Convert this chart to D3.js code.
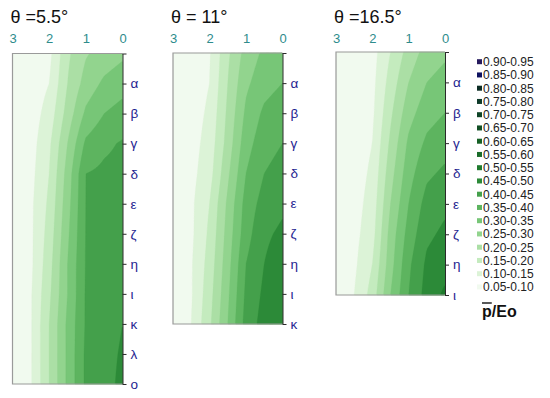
<!DOCTYPE html>
<html>
<head>
<meta charset="utf-8">
<script src="https://cdn.jsdelivr.net/npm/d3@7"></script>
<style>
  body { margin: 0; background: #fff; }
  text { font-family: "Liberation Sans", Arial, sans-serif; }
</style>
</head>
<body>
<svg id="chart" width="550" height="398"></svg>
<script>
// grid columns (top axis, runs 3 -> 0)
var xVals = [3, 2.5, 2, 1.5, 1, 0.5, 0];
var xTicks = [3, 2, 1, 0];

var rows1 = ["", "α", "β", "γ", "δ", "ε", "ζ", "η", "ι", "κ", "λ", "ο"];
var rows2 = ["", "α", "β", "γ", "δ", "ε", "ζ", "η", "ι", "κ"];
var rows3 = ["", "α", "β", "γ", "δ", "ε", "ζ", "η", "ι"];

var titles = ["θ =5.5°", "θ = 11°", "θ =16.5°"];

// p/Eo, one row per tick, columns follow xVals
var theta55 = [
  [0.055, 0.065, 0.085, 0.19, 0.245, 0.27, 0.29],
  [0.06, 0.07, 0.10, 0.20, 0.27, 0.31, 0.33],
  [0.06, 0.075, 0.12, 0.22, 0.31, 0.35, 0.37],
  [0.06, 0.08, 0.14, 0.25, 0.36, 0.39, 0.405],
  [0.06, 0.085, 0.15, 0.27, 0.40, 0.41, 0.415],
  [0.06, 0.09, 0.16, 0.28, 0.401, 0.41, 0.42],
  [0.065, 0.09, 0.17, 0.29, 0.402, 0.415, 0.425],
  [0.065, 0.09, 0.18, 0.30, 0.403, 0.42, 0.43],
  [0.065, 0.095, 0.19, 0.30, 0.405, 0.425, 0.44],
  [0.065, 0.095, 0.20, 0.31, 0.405, 0.43, 0.45],
  [0.065, 0.095, 0.20, 0.31, 0.41, 0.435, 0.455],
  [0.065, 0.095, 0.20, 0.31, 0.41, 0.435, 0.46]
];
var theta11 = [
  [0.055, 0.065, 0.095, 0.19, 0.27, 0.31, 0.33],
  [0.055, 0.07, 0.10, 0.20, 0.29, 0.33, 0.35],
  [0.06, 0.075, 0.11, 0.21, 0.31, 0.36, 0.38],
  [0.06, 0.08, 0.12, 0.22, 0.33, 0.38, 0.40],
  [0.06, 0.085, 0.13, 0.24, 0.35, 0.40, 0.42],
  [0.06, 0.09, 0.15, 0.26, 0.37, 0.42, 0.44],
  [0.065, 0.09, 0.16, 0.27, 0.38, 0.44, 0.46],
  [0.065, 0.095, 0.17, 0.28, 0.40, 0.45, 0.48],
  [0.065, 0.095, 0.18, 0.29, 0.41, 0.46, 0.49],
  [0.065, 0.10, 0.19, 0.30, 0.42, 0.47, 0.50]
];
var theta165 = [
  [0.05, 0.06, 0.08, 0.15, 0.22, 0.27, 0.29],
  [0.05, 0.06, 0.085, 0.17, 0.25, 0.30, 0.32],
  [0.055, 0.065, 0.09, 0.19, 0.28, 0.33, 0.35],
  [0.055, 0.07, 0.10, 0.21, 0.31, 0.36, 0.38],
  [0.055, 0.075, 0.11, 0.23, 0.33, 0.39, 0.41],
  [0.06, 0.08, 0.12, 0.25, 0.35, 0.42, 0.44],
  [0.06, 0.085, 0.13, 0.27, 0.37, 0.44, 0.46],
  [0.06, 0.09, 0.15, 0.28, 0.39, 0.46, 0.48],
  [0.06, 0.10, 0.17, 0.30, 0.40, 0.47, 0.51]
];

var levels = [0.05, 0.10, 0.15, 0.20, 0.25, 0.30, 0.35, 0.40, 0.45,
              0.50, 0.55, 0.60, 0.65, 0.70, 0.75, 0.80, 0.85, 0.90];
var legendLabels = ["0.05-0.10", "0.10-0.15", "0.15-0.20", "0.20-0.25", "0.25-0.30",
  "0.30-0.35", "0.35-0.40", "0.40-0.45", "0.45-0.50", "0.50-0.55", "0.55-0.60",
  "0.60-0.65", "0.65-0.70", "0.70-0.75", "0.75-0.80", "0.80-0.85", "0.85-0.90", "0.90-0.95"];
var colors = ["#f1faef", "#dcf3d7", "#c4ebbe", "#abdfa5", "#92d48e", "#77c677",
  "#5db45f", "#44a04b", "#2c8a38", "#1f7a2d", "#1a6c29", "#166025", "#114e24",
  "#0f4427", "#0e3a29", "#0c2c24", "#0e1260", "#261a5e"];

var svg = d3.select("#chart");

var panels = [
  {data: theta55, rows: rows1, title: titles[0], x0: 12.5, x1: 122.5, y0: 53.5, y1: 384},
  {data: theta11, rows: rows2, title: titles[1], x0: 173, x1: 282.5, y0: 53, y1: 324},
  {data: theta165, rows: rows3, title: titles[2], x0: 336, x1: 445, y0: 52, y1: 295}
];

panels.forEach(function(p) {
  var x = d3.scaleLinear().domain([3, 0]).range([p.x0, p.x1]);
  var y = d3.scaleLinear().domain([0, p.rows.length - 1]).range([p.y0, p.y1]);
  var col = d3.scaleLinear().domain(xVals).range(d3.range(xVals.length));

  // resample grid to pixels (bilinear) so bands come out piecewise linear
  var W = Math.round(p.x1 - p.x0), H = Math.round(p.y1 - p.y0);
  var vals = new Array(W * H);
  for (var j = 0; j < H; j++) {
    var r = y.invert(p.y0 + (j + 0.5) * (p.y1 - p.y0) / H);
    r = Math.max(0, Math.min(p.rows.length - 1, r));
    var r0 = Math.min(Math.floor(r), p.rows.length - 2), fr = r - r0;
    for (var i = 0; i < W; i++) {
      var c = col(x.invert(p.x0 + (i + 0.5) * (p.x1 - p.x0) / W));
      c = Math.max(0, Math.min(xVals.length - 1, c));
      var c0 = Math.min(Math.floor(c), xVals.length - 2), fc = c - c0;
      var a = p.data[r0][c0] * (1 - fc) + p.data[r0][c0 + 1] * fc;
      var b = p.data[r0 + 1][c0] * (1 - fc) + p.data[r0 + 1][c0 + 1] * fc;
      vals[j * W + i] = a * (1 - fr) + b * fr;
    }
  }
  var bands = d3.contours().size([W, H]).thresholds(levels)(vals);
  var sx = (p.x1 - p.x0) / W, sy = (p.y1 - p.y0) / H;
  var path = d3.geoPath(d3.geoTransform({
    point: function(px, py) { this.stream.point(p.x0 + px * sx, p.y0 + py * sy); }
  }));

  var g = svg.append("g");
  g.append("rect")
    .attr("x", p.x0).attr("y", p.y0)
    .attr("width", p.x1 - p.x0).attr("height", p.y1 - p.y0)
    .attr("fill", "#fff");
  g.selectAll("path.band")
    .data(bands)
    .enter().append("path")
    .attr("class", "band")
    .attr("d", path)
    .attr("fill", function(d) { return colors[levels.indexOf(d.value)]; })
    .attr("stroke", function(d) { return colors[levels.indexOf(d.value)]; })
    .attr("stroke-width", 0.3);

  // frame
  g.append("path")
    .attr("d", "M" + p.x1 + "," + p.y0 + "H" + p.x0 + "V" + p.y1 + "H" + p.x1)
    .attr("fill", "none")
    .attr("stroke", "#9a9a9a")
    .attr("stroke-width", 1.2);

  // top axis
  var top = g.append("g")
    .attr("transform", "translate(0,43)")
    .call(d3.axisTop(x).tickValues(xTicks).tickFormat(d3.format("d")).tickSize(0).tickPadding(0));
  top.select(".domain").remove();
  top.selectAll("text")
    .style("font-size", "13px")
    .style("font-family", "'Liberation Sans', Arial, sans-serif")
    .attr("fill", "#2e8c8c");

  // right axis with the row names
  var right = g.append("g")
    .attr("transform", "translate(" + p.x1 + ",0)")
    .call(d3.axisRight(y).tickValues(d3.range(p.rows.length))
      .tickFormat(function(i) { return p.rows[i]; })
      .tickSize(4).tickSizeOuter(0).tickPadding(4));
  right.select(".domain").attr("stroke", "#2a2a2a");
  right.selectAll(".tick line").attr("stroke", "#2a2a2a");
  right.selectAll("text")
    .style("font-size", "13.5px")
    .style("font-family", "'Liberation Sans', Arial, sans-serif")
    .attr("fill", "#1e1e90");

  g.append("text")
    .attr("x", p.x0 - 2)
    .attr("y", 23)
    .style("font-size", "18px")
    .attr("fill", "#111")
    .text(p.title);
});

// legend, highest band on top
var legend = svg.append("g")
  .selectAll("g")
  .data(legendLabels.slice().reverse())
  .enter().append("g")
  .attr("transform", function(d, i) { return "translate(477," + (61.7 + 13.25 * i) + ")"; });

legend.append("rect")
  .attr("x", 0).attr("y", -2.5)
  .attr("width", 5).attr("height", 5)
  .attr("fill", function(d, i) { return colors[colors.length - 1 - i]; });

legend.append("text")
  .attr("x", 6)
  .attr("y", 4.3)
  .style("font-size", "12px")
  .attr("fill", "#222")
  .text(function(d) { return d; });

var unit = svg.append("text")
  .attr("x", 482)
  .attr("y", 317)
  .style("font-size", "16px")
  .style("font-weight", "bold")
  .attr("fill", "#111")
  .text("p/Eo");
var pw = unit.node().getSubStringLength(0, 1);
svg.append("line")
  .attr("x1", 482).attr("x2", 482 + pw)
  .attr("y1", 303).attr("y2", 303)
  .attr("stroke", "#111")
  .attr("stroke-width", 1.4);
</script>
</body>
</html>
